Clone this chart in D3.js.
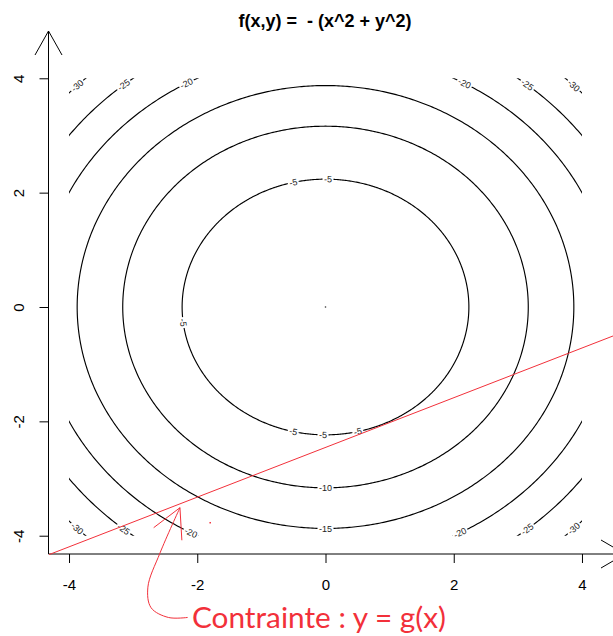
<!DOCTYPE html>
<html>
<head>
<meta charset="utf-8">
<script src="https://cdn.jsdelivr.net/npm/d3@7"></script>
<style>
  body { margin: 0; background: #fff; }
  svg { display: block; }
</style>
</head>
<body>
<svg id="chart" width="613" height="636"></svg>
<script>
// Contour levels of f(x,y) = -(x^2 + y^2), drawn on the grid [-4, 4] x [-4, 4]
const levels = [-5, -10, -15, -20, -25, -30];
const gridRange = [-4, 4];
// Polar angle (degrees) of each label placed on a level's circle
const labelAngles = {
  "-5":  [103, 89, 187, 257, 269, 283],
  "-10": [270],
  "-15": [270],
  "-20": [119, 61, 242, 298],
  "-25": [129, 51, 231, 309],
  "-30": [135, 45, 225, 315]
};
const xTicks = [-4, -2, 0, 2, 4];
const yTicks = [-4, -2, 0, 2, 4];
// Constraint line y = g(x), given by its two end points
const gX = [-4.31, 4.5];
const gY = [-4.33, -0.50];
// Annotation arrow (data units): tip, barb ends, and the curve down to the caption
const arrowTip = [-2.27, -3.51];
const arrowBarbs = [[-2.68, -3.86], [-2.24, -4.08]];
const arrowCurve = [[-2.27, -3.51], [-2.58, -4.30], [-2.77, -4.90], [-2.72, -5.26], [-2.45, -5.43], [-2.15, -5.43]];
const caption = "Contrainte : y = g(x)";

const svg = d3.select("#chart");
const x = d3.scaleLinear().domain([-4.32, 4.32]).range([48.5, 602.5]);
const y = d3.scaleLinear().domain([-4.32, 4.32]).range([554, 60]);
const kx = x(1) - x(0), ky = y(0) - y(1);

const font = "'Liberation Sans', Arial, sans-serif";
const red = "#f2303a";

// Title
svg.append("text")
  .attr("x", 325).attr("y", 27)
  .attr("text-anchor", "middle")
  .style("white-space", "pre")
  .style("font-family", font).style("font-weight", "bold").style("font-size", "18px")
  .text("f(x,y) =  - (x^2 + y^2)");

// Clip contours to the grid extent
const defs = svg.append("defs");
defs.append("clipPath").attr("id", "grid-clip")
  .append("rect")
  .attr("x", x(gridRange[0])).attr("y", y(gridRange[1]))
  .attr("width", x(gridRange[1]) - x(gridRange[0]))
  .attr("height", y(gridRange[0]) - y(gridRange[1]));

// Contour labels, rotated along the curve
const labelData = levels.flatMap(lv => (labelAngles[String(lv)] || []).map(a => {
  const r = Math.sqrt(-lv), t = a * Math.PI / 180;
  const dx = -Math.sin(t) * kx, dy = -Math.cos(t) * ky;
  let ang = Math.atan2(dy, dx) * 180 / Math.PI;
  if (ang > 90) ang -= 180;
  if (ang <= -90) ang += 180;
  return { level: lv, px: x(r * Math.cos(t)), py: y(r * Math.sin(t)), ang };
}));

const labelG = svg.append("g").attr("class", "contour-labels");
const labels = labelG.selectAll("text").data(labelData).join("text")
  .attr("transform", d => `translate(${d.px},${d.py}) rotate(${d.ang})`)
  .attr("text-anchor", "middle")
  .attr("dy", "0.35em")
  .style("font-family", font).style("font-size", "9px")
  .attr("fill", "#222")
  .text(d => String(d.level));
labels.each(function (d) { d.w = this.getComputedTextLength(); });

// Mask that opens a gap in the contour line under each label
const mask = defs.append("mask").attr("id", "label-gaps")
  .attr("maskUnits", "userSpaceOnUse").attr("x", 0).attr("y", 0).attr("width", 613).attr("height", 636);
mask.append("rect").attr("width", 613).attr("height", 636).attr("fill", "#fff");
mask.selectAll("rect.gap").data(labelData).join("rect").attr("class", "gap")
  .attr("x", d => -d.w / 2 - 1.5).attr("y", -4)
  .attr("width", d => d.w + 3).attr("height", 8)
  .attr("transform", d => `translate(${d.px},${d.py}) rotate(${d.ang})`)
  .attr("fill", "#000");

// Contour lines
const thetas = d3.range(0, 360.25, 0.5).map(a => a * Math.PI / 180);
const contourG = svg.insert("g", ".contour-labels")
  .attr("clip-path", "url(#grid-clip)")
  .append("g").attr("mask", "url(#label-gaps)");
contourG.selectAll("path").data(levels).join("path")
  .attr("d", lv => {
    const r = Math.sqrt(-lv);
    return d3.line().x(t => x(r * Math.cos(t))).y(t => y(r * Math.sin(t)))(thetas);
  })
  .attr("fill", "none").attr("stroke", "#000").attr("stroke-width", 1.15);
// the zero level collapses to the single peak point
contourG.append("circle").attr("cx", x(0)).attr("cy", y(0)).attr("r", 0.8).attr("fill", "#333");

// Axes
const xAxis = svg.append("g").attr("transform", `translate(0,${y(-4.32)})`)
  .call(d3.axisBottom(x).tickValues(xTicks).tickSize(9).tickFormat(d => String(d)));
const yAxis = svg.append("g").attr("transform", `translate(${x(-4.32)},0)`)
  .call(d3.axisLeft(y).tickValues(yTicks).tickSize(9).tickFormat(d => String(d)));
[xAxis, yAxis].forEach(g => {
  g.select(".domain").remove();
  g.selectAll(".tick line").attr("stroke", "#000");
  g.selectAll(".tick text").attr("fill", "#000")
    .style("font-family", font).style("font-size", "15px");
});
xAxis.selectAll(".tick text").attr("y", 31).attr("dy", "0.35em");
yAxis.selectAll(".tick text")
  .attr("x", 0).attr("y", 0).attr("dy", "0.35em")
  .attr("text-anchor", "middle")
  .attr("transform", "translate(-30,0) rotate(-90)");

// Axis lines with open arrow heads
const x0 = x(-4.32), y0 = y(-4.32);
const axisPath = d3.path();
axisPath.moveTo(x0, y0); axisPath.lineTo(x0, 31);
axisPath.moveTo(35, 55); axisPath.lineTo(x0, 31); axisPath.lineTo(62, 55);
axisPath.moveTo(x0, y0); axisPath.lineTo(625, y0);
axisPath.moveTo(601, y0 - 14); axisPath.lineTo(625, y0); axisPath.lineTo(601, y0 + 14);
svg.append("path").attr("d", axisPath.toString())
  .attr("fill", "none").attr("stroke", "#000").attr("stroke-width", 1);

// Constraint line
svg.append("line")
  .attr("x1", x(gX[0])).attr("y1", y(gY[0]))
  .attr("x2", x(gX[1])).attr("y2", y(gY[1]))
  .attr("stroke", red).attr("stroke-width", 1);

// Annotation: curved arrow pointing at the constraint, with its caption
const tip = [x(arrowTip[0]), y(arrowTip[1])];
svg.append("path")
  .attr("d", d3.line().x(d => x(d[0])).y(d => y(d[1])).curve(d3.curveCatmullRom.alpha(0.5))(arrowCurve))
  .attr("fill", "none").attr("stroke", red).attr("stroke-width", 1);
svg.selectAll("line.barb").data(arrowBarbs).join("line").attr("class", "barb")
  .attr("x1", tip[0]).attr("y1", tip[1])
  .attr("x2", d => x(d[0])).attr("y2", d => y(d[1]))
  .attr("stroke", red).attr("stroke-width", 1);
svg.append("rect").attr("x", x(-1.81)).attr("y", y(-3.76)).attr("width", 1.5).attr("height", 1.5).attr("fill", red);

svg.append("text")
  .attr("x", 192).attr("y", 628)
  .style("font-family", "Lato, 'Open Sans', sans-serif").style("font-size", "28px")
  .attr("fill", red)
  .attr("textLength", 254).attr("lengthAdjust", "spacingAndGlyphs")
  .text(caption);
</script>
</body>
</html>
